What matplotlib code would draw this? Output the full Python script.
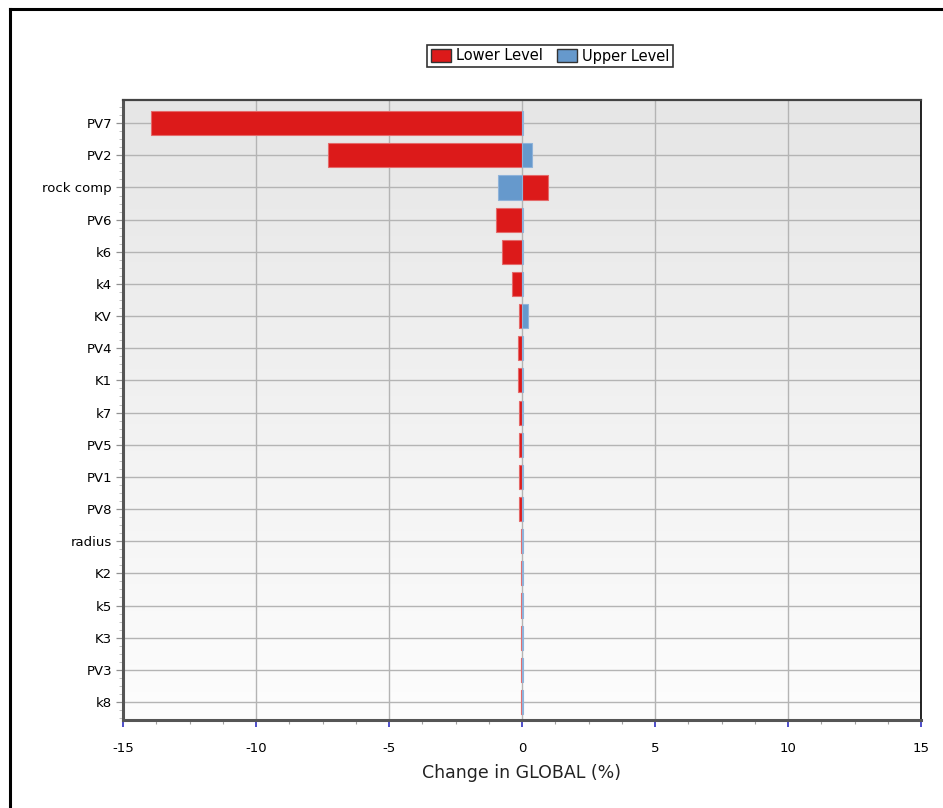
import numpy as np
import matplotlib.pyplot as plt
from matplotlib.lines import Line2D
from matplotlib.patches import Patch
from matplotlib.colors import LinearSegmentedColormap
from matplotlib.ticker import MultipleLocator, AutoMinorLocator

# Sensitivity of GLOBAL to each parameter at its lower and upper level
parameters = ["PV7", "PV2", "rock comp", "PV6", "k6", "k4", "KV", "PV4", "K1",
              "k7", "PV5", "PV1", "PV8", "radius", "K2", "k5", "K3", "PV3", "k8"]
lower_level = [-13.95, -7.28, 0.97, -0.96, -0.74, -0.38, -0.12, -0.16, -0.15,
               -0.10, -0.10, -0.10, -0.10, -0.03, -0.03, -0.03, -0.03, -0.03, -0.03]
upper_level = [0.04, 0.38, -0.90, 0.04, 0.04, 0.03, 0.22, 0.05, 0.04,
               0.03, 0.03, 0.03, 0.03, 0.03, 0.04, 0.04, 0.04, 0.04, 0.03]
x_ticks = [-15, -10, -5, 0, 5, 10, 15]

RED = "#dc1a1a"
BLUE = "#6699cc"

fig = plt.figure(figsize=(9.43, 8.08), dpi=100)
ax = fig.add_axes([123 / 943, 1 - 720 / 808, (921 - 123) / 943, (720 - 100) / 808])

# soft vertical gradient behind the plot
grad = np.linspace(0, 1, 256).reshape(-1, 1)
ax.imshow(grad, aspect="auto",
          cmap=LinearSegmentedColormap.from_list("bg", ["#e6e6e6", "#fdfdfd"]),
          extent=[0, 1, 0, 1], transform=ax.transAxes, zorder=0, origin="upper")

y = np.arange(len(parameters))
h = 0.75
ax.barh(y, lower_level, height=h, color=RED, edgecolor="#e46a6a", linewidth=0.8, zorder=3)
ax.barh(y, upper_level, height=h, color=BLUE, edgecolor="#8fb3da", linewidth=0.8, zorder=3)

ax.set_xlim(-15, 15)
ax.set_ylim(len(parameters) - 1 + 0.56, -0.72)
ax.set_xticks(x_ticks)
ax.set_xticklabels([str(t) for t in x_ticks])
ax.xaxis.set_minor_locator(AutoMinorLocator(4))
ax.set_yticks(y)
ax.set_yticklabels(parameters)
ax.yaxis.set_minor_locator(MultipleLocator(0.25))

ax.grid(True, which="major", color="#b4b4b4", linewidth=1.0, zorder=1)
ax.set_axisbelow(True)

ax.tick_params(axis="x", which="major", length=5, width=1.2, color="#3030c0",
               labelsize=9.5, pad=11)
ax.tick_params(axis="x", which="minor", length=3, width=0.8, color="#a0a0a0")
ax.tick_params(axis="y", which="major", length=5, width=0.9, color="#909090",
               labelsize=9.5, pad=3)
ax.tick_params(axis="y", which="minor", length=3, width=0.6, color="#b8b8b8")

for side in ("left", "bottom"):
    ax.spines[side].set_color("#555555")
    ax.spines[side].set_linewidth(2.2)
ax.spines["top"].set_color("#444444")
ax.spines["top"].set_linewidth(1.6)
ax.spines["right"].set_color("#111111")
ax.spines["right"].set_linewidth(1.3)

ax.set_xlabel("Change in GLOBAL (%)", fontsize=12.5, color="#222222", labelpad=6)

handles = [Patch(facecolor=RED, edgecolor="#333333", label="Lower Level"),
           Patch(facecolor=BLUE, edgecolor="#333333", label="Upper Level")]
leg = fig.legend(handles=handles, loc="center", bbox_to_anchor=(550 / 943, 1 - 56 / 808),
                 ncol=2, fontsize=10.5, frameon=True, fancybox=False, edgecolor="black",
                 handlelength=1.4, handleheight=1.0, handletextpad=0.3, columnspacing=1.0,
                 borderpad=0.25, borderaxespad=0)
leg.get_frame().set_linewidth(1.2)

# outer frame on the top and left edges
fig.add_artist(Line2D([10 / 943, 10 / 943], [0, 1 - 9 / 808], color="black", linewidth=2.2,
                      transform=fig.transFigure))
fig.add_artist(Line2D([10 / 943, 1], [1 - 9 / 808, 1 - 9 / 808], color="black", linewidth=2.2,
                      transform=fig.transFigure))

fig.savefig("out.png", dpi=100, facecolor="white")
